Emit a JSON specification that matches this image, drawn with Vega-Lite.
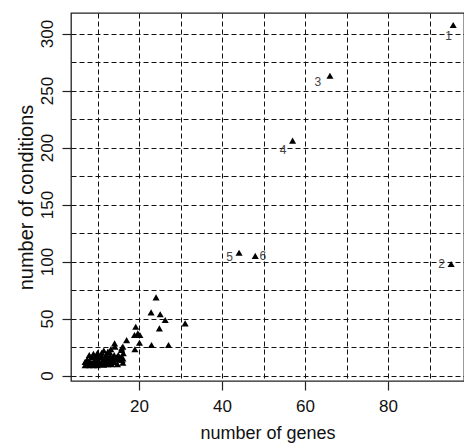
{
  "$schema": "https://vega.github.io/schema/vega-lite/v6.json",
  "autosize": {"type": "none"},
  "padding": {"left": 71, "top": 13, "right": 0, "bottom": 64},
  "width": 393,
  "height": 368,
  "background": "white",
  "config": {
    "view": {"stroke": "#222", "strokeWidth": 1.3},
    "axis": {
      "labelFont": "Liberation Sans",
      "titleFont": "Liberation Sans",
      "labelFontSize": 17,
      "titleFontSize": 18,
      "labelColor": "#111",
      "titleColor": "#111",
      "titleFontWeight": "normal",
      "domain": false,
      "tickColor": "#222",
      "tickWidth": 1.2,
      "gridColor": "#111",
      "gridDash": [5, 3],
      "gridOpacity": 1,
      "gridWidth": 1
    }
  },
  "encoding": {
    "x": {
      "field": "genes",
      "type": "quantitative",
      "scale": {"domain": [3.6, 98.3], "nice": false, "zero": false},
      "axis": {
        "title": "number of genes",
        "values": [10, 20, 30, 40, 50, 60, 70, 80, 90],
        "labelExpr": "datum.value % 20 === 0 ? datum.label : ''",
        "tickOpacity": {"condition": {"test": "datum.value % 20 === 0", "value": 1}, "value": 0},
        "tickSize": 9,
        "labelPadding": 8,
        "titlePadding": 10
      }
    },
    "y": {
      "field": "conditions",
      "type": "quantitative",
      "scale": {"domain": [-4.8, 318], "nice": false, "zero": false},
      "axis": {
        "title": "number of conditions",
        "titleFontSize": 20,
        "values": [0, 25, 50, 75, 100, 125, 150, 175, 200, 225, 250, 275, 300],
        "labelExpr": "datum.value % 50 === 0 ? datum.label : ''",
        "tickOpacity": {"condition": {"test": "datum.value % 50 === 0", "value": 1}, "value": 0},
        "tickSize": 9,
        "labelAngle": -90,
        "labelAlign": "center",
        "labelBaseline": "bottom",
        "labelPadding": 6,
        "titlePadding": 2
      }
    }
  },
  "layer": [
    {
      "data": {
        "values": [
          {"genes": 95.7, "conditions": 307.5},
          {"genes": 95.2, "conditions": 97.8},
          {"genes": 66.0, "conditions": 263},
          {"genes": 57.0, "conditions": 206},
          {"genes": 44.1, "conditions": 107.7},
          {"genes": 48.0, "conditions": 105},
          {"genes": 24.1, "conditions": 68.6},
          {"genes": 22.9, "conditions": 55.4},
          {"genes": 25.1, "conditions": 53.7},
          {"genes": 26.3, "conditions": 48.7},
          {"genes": 31.1, "conditions": 45.8},
          {"genes": 24.9, "conditions": 41.4},
          {"genes": 19.2, "conditions": 42.8},
          {"genes": 19.7, "conditions": 37},
          {"genes": 18.9, "conditions": 35.5},
          {"genes": 20.2, "conditions": 35.5},
          {"genes": 17.0, "conditions": 31.1},
          {"genes": 20.1, "conditions": 28.8},
          {"genes": 23.0, "conditions": 26.8},
          {"genes": 27.1, "conditions": 26.8},
          {"genes": 19.0, "conditions": 23},
          {"genes": 14.1, "conditions": 28.2},
          {"genes": 15.8, "conditions": 23.8},
          {"genes": 16.2, "conditions": 19.5},
          {"genes": 16.1, "conditions": 15.1},
          {"genes": 15.9, "conditions": 13.6},
          {"genes": 14.2, "conditions": 25.3},
          {"genes": 15.8, "conditions": 22.4},
          {"genes": 16.1, "conditions": 25.3},
          {"genes": 15.8, "conditions": 16.5},
          {"genes": 16.1, "conditions": 11.2},
          {"genes": 7, "conditions": 9},
          {"genes": 7.5, "conditions": 10},
          {"genes": 8, "conditions": 9},
          {"genes": 8.5, "conditions": 11},
          {"genes": 9, "conditions": 9},
          {"genes": 9.5, "conditions": 10},
          {"genes": 10, "conditions": 9},
          {"genes": 10.5, "conditions": 11},
          {"genes": 11, "conditions": 10},
          {"genes": 11.5, "conditions": 9.5},
          {"genes": 12, "conditions": 11},
          {"genes": 12.5, "conditions": 10},
          {"genes": 13, "conditions": 12},
          {"genes": 13.4, "conditions": 10},
          {"genes": 7, "conditions": 12},
          {"genes": 7.5, "conditions": 14},
          {"genes": 8, "conditions": 13},
          {"genes": 8.5, "conditions": 16},
          {"genes": 9, "conditions": 12},
          {"genes": 9.5, "conditions": 14},
          {"genes": 10, "conditions": 13},
          {"genes": 10.5, "conditions": 16},
          {"genes": 11, "conditions": 12},
          {"genes": 11.5, "conditions": 14},
          {"genes": 12, "conditions": 13},
          {"genes": 12.5, "conditions": 15},
          {"genes": 13, "conditions": 14},
          {"genes": 13.5, "conditions": 13},
          {"genes": 14, "conditions": 15},
          {"genes": 8, "conditions": 18},
          {"genes": 9, "conditions": 17},
          {"genes": 10, "conditions": 15},
          {"genes": 10, "conditions": 18},
          {"genes": 11, "conditions": 17},
          {"genes": 11, "conditions": 20},
          {"genes": 12, "conditions": 18},
          {"genes": 12, "conditions": 16},
          {"genes": 13, "conditions": 17},
          {"genes": 13, "conditions": 20},
          {"genes": 14, "conditions": 18},
          {"genes": 14, "conditions": 12},
          {"genes": 15, "conditions": 14},
          {"genes": 11.5, "conditions": 22},
          {"genes": 12.5, "conditions": 21},
          {"genes": 13.2, "conditions": 23},
          {"genes": 10, "conditions": 20},
          {"genes": 9, "conditions": 19},
          {"genes": 8, "conditions": 11},
          {"genes": 14.5, "conditions": 16},
          {"genes": 15, "conditions": 18},
          {"genes": 14.8, "conditions": 10}
        ]
      },
      "mark": {"type": "point", "shape": "triangle-up", "filled": true, "color": "black", "size": 50, "opacity": 1}
    },
    {
      "data": {
        "values": [
          {"genes": 94.6, "conditions": 298, "label": "1"},
          {"genes": 92.9, "conditions": 97.7, "label": "2"},
          {"genes": 63.1, "conditions": 257.7, "label": "3"},
          {"genes": 54.7, "conditions": 197.8, "label": "4"},
          {"genes": 41.8, "conditions": 104.2, "label": "5"},
          {"genes": 49.8, "conditions": 105, "label": "6"}
        ]
      },
      "mark": {"type": "text", "font": "Liberation Sans", "fontSize": 12, "color": "#444"},
      "encoding": {
        "text": {"field": "label"}
      }
    }
  ]
}
